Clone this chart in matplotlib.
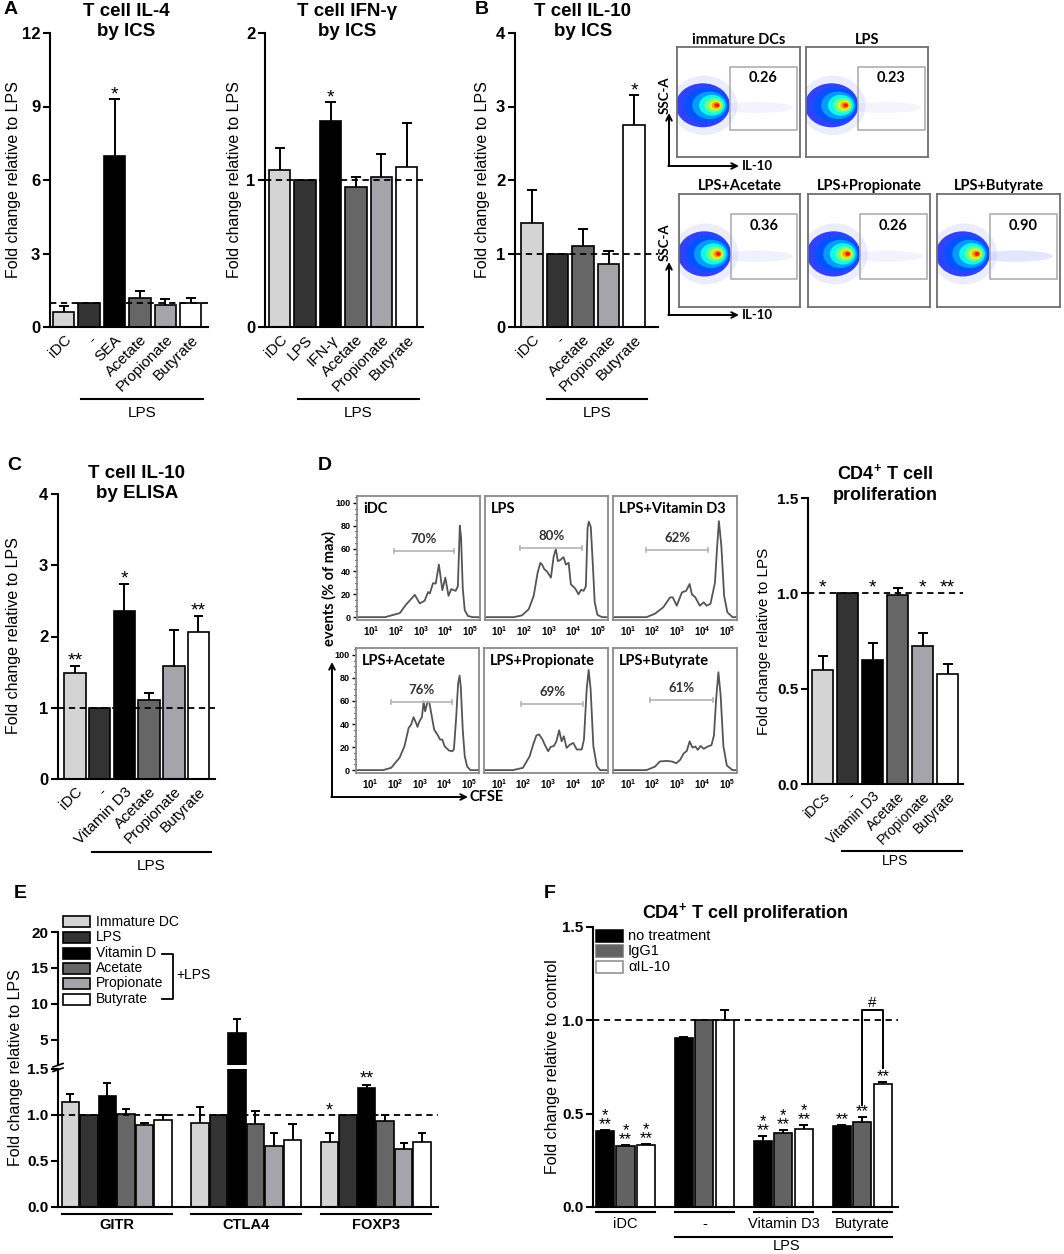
import numpy as np
import matplotlib
matplotlib.use('Agg')
import matplotlib.pyplot as plt
from matplotlib.patches import Rectangle, Ellipse
from matplotlib import transforms
from matplotlib.ticker import MultipleLocator, NullLocator

plt.rcParams['font.family'] = ['Liberation Sans', 'DejaVu Sans']
plt.rcParams['mathtext.fontset'] = 'custom'
plt.rcParams['mathtext.rm'] = 'Liberation Sans'
plt.rcParams['mathtext.bf'] = 'Liberation Sans:bold'
plt.rcParams['mathtext.it'] = 'Liberation Sans:italic'

# ------------------------------------------------------------------ data
il4_labels = ['iDC', '-', 'SEA', 'Acetate', 'Propionate', 'Butyrate']
il4_vals = [0.62, 1.0, 7.0, 1.2, 0.9, 1.0]
il4_errs = [0.23, 0.0, 2.3, 0.27, 0.23, 0.2]
il4_sig = ['', '', '*', '', '', '']

ifn_labels = ['iDC', 'LPS', 'IFN-γ', 'Acetate', 'Propionate', 'Butyrate']
ifn_vals = [1.07, 1.0, 1.40, 0.955, 1.02, 1.09]
ifn_errs = [0.15, 0.0, 0.13, 0.065, 0.16, 0.30]
ifn_sig = ['', '', '*', '', '', '']

il10ics_labels = ['iDC', '-', 'Acetate', 'Propionate', 'Butyrate']
il10ics_vals = [1.41, 1.0, 1.10, 0.86, 2.75]
il10ics_errs = [0.46, 0.0, 0.24, 0.17, 0.40]
il10ics_sig = ['', '', '', '', '*']

flow_titles = ['immature DCs', 'LPS', 'LPS+Acetate', 'LPS+Propionate', 'LPS+Butyrate']
flow_pct = [0.26, 0.23, 0.36, 0.26, 0.90]

elisa_labels = ['iDC', '-', 'Vitamin D3', 'Acetate', 'Propionate', 'Butyrate']
elisa_vals = [1.49, 1.0, 2.36, 1.11, 1.58, 2.06]
elisa_errs = [0.10, 0.0, 0.38, 0.10, 0.51, 0.23]
elisa_sig = ['**', '', '*', '', '', '**']

hist_titles = ['iDC', 'LPS', 'LPS+Vitamin D3', 'LPS+Acetate', 'LPS+Propionate', 'LPS+Butyrate']
hist_pct = [70, 80, 62, 76, 69, 61]
h_idc_log = [0.4, 1.54, 2.14, 2.41, 2.48, 2.75, 2.95, 3.15, 3.29, 3.36, 3.49, 3.60, 3.73, 3.87, 3.99,
             4.12, 4.23, 4.41, 4.50, 4.55, 4.58, 4.63, 4.70, 4.78, 4.91, 5.11, 5.4]
h_idc_y = [0, 0, 3.5, 11.5, 13, 19.5, 12, 14.4, 22, 20.7, 29.7, 29.4, 46, 23.6, 34.6,
           18.7, 24.5, 23, 27, 60, 80, 70, 25, 6, 1, 0, 0]
h_lps_log = [0.4, 1.57, 1.90, 2.18, 2.38, 2.54, 2.65, 2.72, 2.81, 2.92, 3.08, 3.19, 3.28, 3.36, 3.46,
             3.59, 3.69, 3.80, 3.89, 4.07, 4.20, 4.31, 4.41, 4.50, 4.57, 4.62, 4.70, 4.78, 4.86, 4.97, 5.15, 5.4]
h_lps_y = [0, 0, 1.5, 7, 18.7, 39, 47.5, 46, 42, 40, 34.6, 53, 59.6, 49, 50,
           52.5, 46, 47.5, 28.8, 25, 20, 24, 23, 27, 78, 83.6, 79, 47.5, 13, 2, 0, 0]
h_vd3_log = [0.4, 1.75, 2.09, 2.43, 2.70, 2.81, 2.97, 3.18, 3.35, 3.49, 3.58, 3.72, 3.90, 4.06, 4.17,
             4.33, 4.51, 4.60, 4.67, 4.77, 4.88, 5.01, 5.22, 5.4]
h_vd3_y = [0, 0, 3, 8.7, 17.3, 17.3, 10, 21.7, 23, 29, 20, 17.3, 10, 13, 10,
           11.6, 30, 62, 84, 62, 18.8, 4.3, 0, 0]
h_ace_log = [0.4, 1.50, 1.83, 2.17, 2.37, 2.54, 2.64, 2.74, 2.84, 2.90, 2.97, 3.08, 3.15, 3.21, 3.31,
             3.38, 3.48, 3.58, 3.71, 3.82, 3.91, 4.00, 4.18, 4.32, 4.38, 4.47, 4.55, 4.61, 4.66, 4.74,
             4.82, 4.92, 5.05, 5.4]
h_ace_y = [0, 0, 2, 10.7, 20.7, 36.6, 39.5, 46, 41, 37.5, 42, 46, 59.6, 51, 59.6,
           58.8, 46.7, 35, 30.8, 26.5, 26.5, 20.7, 17, 16.4, 18, 45, 75, 82, 72, 35,
           12, 3, 0, 0]
h_pro_log = [0.4, 1.57, 1.97, 2.24, 2.38, 2.51, 2.62, 2.76, 2.85, 2.99, 3.08, 3.22, 3.32, 3.43, 3.53,
             3.62, 3.73, 3.86, 4.00, 4.14, 4.34, 4.43, 4.54, 4.62, 4.70, 4.81, 4.95, 5.08, 5.4]
h_pro_y = [0, 0, 2, 12, 22, 30, 31, 26.5, 22, 16.4, 20, 21, 25, 34.6, 25,
           29.4, 19.3, 22, 23.6, 17.9, 17.9, 26.5, 70, 87, 70, 20.7, 3.5, 0, 0]
h_but_log = [0.4, 1.75, 2.09, 2.29, 2.56, 2.77, 2.95, 3.11, 3.25, 3.38, 3.49, 3.60, 3.72, 3.82, 3.93,
             4.06, 4.22, 4.37, 4.47, 4.56, 4.65, 4.74, 4.85, 4.99, 5.22, 5.4]
h_but_y = [0, 0, 3, 7.5, 8, 7.5, 6, 9, 14.5, 16.8, 25, 19.6, 20.5, 17.6, 21,
           18.5, 20.5, 21.7, 30, 62, 85, 65, 21, 4, 0, 0]
gate_lo = [1.91, 1.84, 1.75, 1.83, 1.90, 1.88]
gate_hi = [4.33, 4.34, 4.22, 4.32, 4.40, 4.43]
gate_y = [57.6, 60.5, 59.0, 59.0, 57.6, 61.0]

prolif_labels = ['iDCs', '-', 'Vitamin D3', 'Acetate', 'Propionate', 'Butyrate']
prolif_vals = [0.60, 1.0, 0.65, 0.99, 0.725, 0.577]
prolif_errs = [0.07, 0.0, 0.09, 0.04, 0.065, 0.053]
prolif_sig = ['*', '', '*', '', '*', '**']

e_genes = ['GITR', 'CTLA4', 'FOXP3']
e_series = ['Immature DC', 'LPS', 'Vitamin D', 'Acetate', 'Propionate', 'Butyrate']
gitr_vals = [1.14, 1.0, 1.21, 1.01, 0.89, 0.95]
gitr_errs = [0.09, 0.0, 0.14, 0.06, 0.02, 0.05]
ctla4_vals = [0.91, 1.0, 5.93, 0.905, 0.66, 0.73]
ctla4_errs = [0.18, 0.0, 1.97, 0.135, 0.14, 0.17]
foxp3_vals = [0.71, 1.0, 1.29, 0.93, 0.63, 0.71]
foxp3_errs = [0.09, 0.0, 0.04, 0.07, 0.07, 0.09]

f_groups = ['iDC', '-', 'Vitamin D3', 'Butyrate']
f_series = ['no treatment', 'IgG1', 'αIL-10']
f_nt = [0.409, 0.905, 0.354, 0.434]
f_nt_err = [0.003, 0.004, 0.026, 0.003]
f_igg = [0.329, 1.0, 0.398, 0.455]
f_igg_err = [0.004, 0.0, 0.014, 0.029]
f_ail = [0.333, 1.0, 0.420, 0.658]
f_ail_err = [0.003, 0.053, 0.017, 0.011]
f_sig = [['*\n**', '*\n**', '*\n**'], ['', '', ''], ['*\n**', '*\n**', '*\n**'], ['**', '**', '**']]

# ------------------------------------------------------------------ styles
C_IDC, C_LPS, C_BLK, C_ACE, C_PRO, C_BUT = '#d4d4d4', '#333333', '#000000', '#666666', '#a4a4aa', '#ffffff'
six_colors = [C_IDC, C_LPS, C_BLK, C_ACE, C_PRO, C_BUT]
F_COLORS = ['#000000', '#626262', '#ffffff']
LATO = ['Lato', 'DejaVu Sans']

W, H = 1064, 1254
fig = plt.figure(figsize=(W / 100, H / 100), dpi=100)
fig.patch.set_facecolor('white')


def px_ax(l, t, r, b):
    return fig.add_axes([l / W, 1 - b / H, (r - l) / W, (b - t) / H])


ov = fig.add_axes([0, 0, 1, 1])
ov.set_xlim(0, W)
ov.set_ylim(H, 0)
ov.axis('off')
ov.patch.set_visible(False)
ov.set_zorder(50)


def txt(x, y, s, **kw):
    kw.setdefault('ha', 'center')
    kw.setdefault('va', 'center')
    return ov.text(x, y, s, **kw)


def bt(ax):
    return transforms.blended_transform_factory(ax.transData, ov.transData)


def bar_axes(box, xlim, ylim, yticks, ytl, tick_fs=12):
    ax = px_ax(*box)
    ax.set_xlim(*xlim)
    ax.set_ylim(*ylim)
    ax.set_yticks(yticks)
    ax.set_yticklabels(ytl, fontsize=tick_fs, fontweight='bold')
    for s in ('top', 'right'):
        ax.spines[s].set_visible(False)
    for s in ('left', 'bottom'):
        ax.spines[s].set_linewidth(1.5)
    ax.tick_params(axis='y', direction='out', length=5, width=1.5, pad=2)
    ax.tick_params(axis='x', length=0, pad=4)
    ax.patch.set_visible(False)
    return ax


def draw_bars(ax, x, vals, errs, colors, width, cap):
    x = np.asarray(x, float)
    v = np.asarray(vals, float)
    e = np.asarray(errs, float)
    ax.bar(x, v, width, color=colors, edgecolor='k', linewidth=1.2, zorder=2)
    m = e > 0
    ax.vlines(x[m], v[m], v[m] + e[m], color='k', lw=1.4, zorder=3)
    ax.hlines(v[m] + e[m], x[m] - cap, x[m] + cap, color='k', lw=1.4, zorder=3)


def dashed(ax):
    ax.axhline(1.0, color='k', lw=1.3, ls=(0, (3.5, 2.5)), zorder=5)


def star(ax, x, y, s, d, size=14):
    # d: distance in px between anchor and the centre of the (last line of) stars
    off = (d + 4) / 1.389 - 0.787 * size
    ax.annotate(s, (x, y), xytext=(0, off), textcoords='offset points', ha='center',
                va='bottom', fontsize=size, annotation_clip=False, zorder=6,
                linespacing=0.5, multialignment='center')


def simple_bar_panel(box, xlim, ylim, yticks, ytl, labels, vals, errs, colors, sig,
                     width=0.84, xl_fs=11, tick_fs=12, star_d=6.5):
    ax = bar_axes(box, xlim, ylim, yticks, ytl, tick_fs)
    x = np.arange(len(vals))
    draw_bars(ax, x, vals, errs, colors, width, 0.2)
    dashed(ax)
    ax.set_xticks(x)
    ax.set_xticklabels(labels, rotation=45, ha='right', rotation_mode='anchor', fontsize=xl_fs)
    for xi, v, e, s in zip(x, vals, errs, sig):
        if s:
            star(ax, xi, v + e, s, star_d)
    return ax


# ------------------------------------------------------------------ panel A
axA1 = simple_bar_panel((50, 33, 208, 327), (-0.54, 5.68), (0, 12), [0, 3, 6, 9, 12],
                        ['0', '3', '6', '9', '12'], il4_labels, il4_vals, il4_errs, six_colors, il4_sig)
axA2 = simple_bar_panel((265, 33, 423, 327), (-0.58, 5.64), (0, 2), [0, 1, 2],
                        ['0', '1', '2'], ifn_labels, ifn_vals, ifn_errs, six_colors, ifn_sig)
for ax in (axA1, axA2):
    ax.plot([0.7, 5.5], [399, 399], color='k', lw=1.5, transform=bt(ax), clip_on=False)
    ax.text(3.1, 413, 'LPS', transform=bt(ax), ha='center', va='center', fontsize=11)

txt(126, 11, 'T cell IL-4', fontsize=13.5, fontweight='bold')
txt(126, 32, 'by ICS', fontsize=13.5, fontweight='bold')
txt(347, 11, 'T cell IFN-γ', fontsize=13.5, fontweight='bold')
txt(347, 32, 'by ICS', fontsize=13.5, fontweight='bold')
txt(14, 180, 'Fold change relative to LPS', rotation=90, fontsize=11.5)
txt(235, 180, 'Fold change relative to LPS', rotation=90, fontsize=11.5)
txt(11, 10, 'A', fontsize=14, fontweight='bold')

# ------------------------------------------------------------------ panel B (bars)
axB = simple_bar_panel((515, 33, 658, 327), (-0.67, 4.94), (0, 4), [0, 1, 2, 3, 4],
                       ['0', '1', '2', '3', '4'], il10ics_labels, il10ics_vals, il10ics_errs,
                       [C_IDC, C_LPS, C_ACE, C_PRO, C_BUT], il10ics_sig, star_d=7.5)
axB.plot([0.6, 4.5], [399, 399], color='k', lw=1.5, transform=bt(axB), clip_on=False)
axB.text(2.55, 413, 'LPS', transform=bt(axB), ha='center', va='center', fontsize=11)
txt(583, 11, 'T cell IL-10', fontsize=13.5, fontweight='bold')
txt(583, 32, 'by ICS', fontsize=13.5, fontweight='bold')
txt(483, 180, 'Fold change relative to LPS', rotation=90, fontsize=11.5)
txt(482, 10, 'B', fontsize=14, fontweight='bold')

# ------------------------------------------------------------------ panel B (flow plots)
flow_boxes = [(677, 47, 800, 157), (806, 47, 928, 157), (679, 194, 800, 307),
              (808, 194, 930, 307), (937, 194, 1060, 307)]
flow_title_y = [40, 40, 186, 186, 186]
jet = matplotlib.colormaps['jet']
blob_layers = [(0.21, 0.44, 0.40, 0.15, 0.8), (0.24, 0.36, 0.32, 0.21, 0.95),
               (0.265, 0.28, 0.25, 0.28, 1.0), (0.285, 0.21, 0.19, 0.37, 1.0),
               (0.30, 0.15, 0.135, 0.48, 1.0), (0.31, 0.105, 0.095, 0.60, 1.0),
               (0.318, 0.07, 0.063, 0.74, 1.0), (0.325, 0.04, 0.036, 0.88, 1.0)]
for i, box in enumerate(flow_boxes):
    ax = px_ax(*box)
    ax.set_xlim(0, 1)
    ax.set_ylim(0, 1)
    ax.set_xticks([])
    ax.set_yticks([])
    for sp in ax.spines.values():
        sp.set_color('#6e6e6e')
        sp.set_linewidth(1.3)
    ax.add_patch(Ellipse((0.22, 0.47), 0.54, 0.54, color='#c8ccff', alpha=0.35, lw=0))
    ax.add_patch(Ellipse((0.64, 0.45), 0.60, 0.10, color='#b4b8ff', alpha=0.08 + 0.3 * flow_pct[i], lw=0))
    for cx, w, h, c, a in blob_layers:
        ax.add_patch(Ellipse((cx, 0.47), w, h, color=jet(c), alpha=a, lw=0))
    ax.add_patch(Rectangle((0.43, 0.25), 0.545, 0.57, fill=False, ec='#a8a8a8', lw=1.1))
    ax.text(0.70, 0.72, f'{flow_pct[i]:.2f}', transform=ax.transAxes, ha='center', va='center',
            fontsize=10.5, fontweight='bold', family=LATO)
    txt((box[0] + box[2]) / 2, flow_title_y[i], flow_titles[i], fontsize=10.5, fontweight='bold', family=LATO)

for yb, yt, ytxt in [(166, 113, 95), (315, 262, 242)]:
    ov.annotate('', xy=(669, yt), xytext=(669, yb),
                arrowprops=dict(arrowstyle='->', lw=1.4, color='k', shrinkA=0, shrinkB=0))
    ov.annotate('', xy=(739, yb), xytext=(668.3, yb),
                arrowprops=dict(arrowstyle='->', lw=1.4, color='k', shrinkA=0, shrinkB=0))
    txt(665, ytxt, 'SSC-A', rotation=90, fontsize=9.5, fontweight='bold', family=LATO)
    txt(742, yb, 'IL-10', ha='left', fontsize=9.5, fontweight='bold', family=LATO)

# ------------------------------------------------------------------ panel C
axC = simple_bar_panel((58, 494, 215, 779), (-0.69, 5.67), (0, 4), [0, 1, 2, 3, 4],
                       ['0', '1', '2', '3', '4'], elisa_labels, elisa_vals, elisa_errs,
                       six_colors, elisa_sig, width=0.87, star_d=7.5)
axC.plot([0.7, 5.5], [852, 852], color='k', lw=1.5, transform=bt(axC), clip_on=False)
axC.text(3.1, 866, 'LPS', transform=bt(axC), ha='center', va='center', fontsize=11)
txt(137, 473, 'T cell IL-10', fontsize=13.5, fontweight='bold')
txt(137, 493, 'by ELISA', fontsize=13.5, fontweight='bold')
txt(14, 636, 'Fold change relative to LPS', rotation=90, fontsize=11.5)
txt(14, 465, 'C', fontsize=14, fontweight='bold')

# ------------------------------------------------------------------ panel D (histograms)
hist_boxes = [(357, 496, 480, 620), (485, 496, 608, 620), (613, 496, 737, 620),
              (356, 648, 479, 773), (484, 648, 608, 773), (613, 648, 737, 773)]
hist_logs = [h_idc_log, h_lps_log, h_vd3_log, h_ace_log, h_pro_log, h_but_log]
hist_ys = [h_idc_y, h_lps_y, h_vd3_y, h_ace_y, h_pro_y, h_but_y]
for i, box in enumerate(hist_boxes):
    ax = px_ax(*box)
    ax.set_xscale('log')
    ax.set_xlim(10 ** 0.4, 10 ** 5.4)
    ax.set_ylim(-2.5, 106)
    ax.plot(10 ** np.asarray(hist_logs[i]), hist_ys[i], color='#555555', lw=1.3,
            solid_joinstyle='round')
    for sp in ax.spines.values():
        sp.set_color('#8a8a8a')
        sp.set_linewidth(1.3)
    ax.xaxis.set_minor_locator(NullLocator())
    ax.set_xticks([10 ** k for k in range(1, 6)])
    ax.set_xticklabels([r'$\mathbf{10^{%d}}$' % k for k in range(1, 6)], fontsize=7)
    ax.tick_params(axis='x', length=0, pad=3)
    if i % 3 == 0:
        ax.set_yticks([0, 20, 40, 60, 80, 100])
        ax.set_yticklabels(['0', '20', '40', '60', '80', '100'], fontsize=6.5, fontweight='bold')
        ax.yaxis.set_minor_locator(MultipleLocator(5))
        ax.tick_params(axis='y', which='major', length=3, width=1, pad=1.5)
        ax.tick_params(axis='y', which='minor', length=1.5, width=0.8)
    else:
        ax.set_yticks([])
    lo, hi, gy = 10 ** gate_lo[i], 10 ** gate_hi[i], gate_y[i]
    ax.plot([lo, hi], [gy, gy], color='#b4b4b4', lw=1.2)
    ax.plot([lo, lo], [gy - 1.8, gy + 1.8], color='#b4b4b4', lw=1.2)
    ax.plot([hi, hi], [gy - 1.8, gy + 1.8], color='#b4b4b4', lw=1.2)
    ax.text(10 ** ((gate_lo[i] + gate_hi[i]) / 2), gy + 10.5, f'{hist_pct[i]}%', ha='center',
            va='center', fontsize=9.5, fontweight='bold', color='#333333', family=LATO)
    ax.text(0.05, 0.95, hist_titles[i], transform=ax.transAxes, ha='left', va='top',
            fontsize=10.5, fontweight='bold', family=LATO)

ov.annotate('', xy=(332, 662), xytext=(332, 797),
            arrowprops=dict(arrowstyle='->', lw=1.4, color='k', shrinkA=0, shrinkB=0))
ov.annotate('', xy=(468, 797), xytext=(331.3, 797),
            arrowprops=dict(arrowstyle='->', lw=1.4, color='k', shrinkA=0, shrinkB=0))
txt(329, 588, 'events (% of max)', rotation=90, fontsize=10.5, fontweight='bold', family=LATO)
txt(470, 797, 'CFSE', ha='left', fontsize=10.5, fontweight='bold', family=LATO)
txt(325, 465, 'D', fontsize=14, fontweight='bold')

# ------------------------------------------------------------------ panel D (bars)
axD = bar_axes((808, 498, 963, 784), (-0.58, 5.62), (0, 1.5), [0, 0.5, 1.0, 1.5],
               ['0.0', '0.5', '1.0', '1.5'], tick_fs=11)
xD = np.arange(len(prolif_vals))
draw_bars(axD, xD, prolif_vals, prolif_errs, six_colors, 0.84, 0.2)
dashed(axD)
axD.set_xticks(xD)
axD.set_xticklabels(prolif_labels, rotation=45, ha='right', rotation_mode='anchor', fontsize=10)
for xi, s in zip(xD, prolif_sig):
    if s:
        star(axD, xi, 1.0, s, 8)
axD.plot([0.78, 5.58], [851, 851], color='k', lw=1.5, transform=bt(axD), clip_on=False)
axD.text(2.9, 861, 'LPS', transform=bt(axD), ha='center', va='center', fontsize=10)
txt(885, 473, r'CD4$^{\mathbf{+}}$ T cell', fontsize=13, fontweight='bold')
txt(885, 495, 'proliferation', fontsize=13, fontweight='bold')
txt(764, 641, 'Fold change relative to LPS', rotation=90, fontsize=11)

# ------------------------------------------------------------------ panel E
e_vals = [gitr_vals, ctla4_vals, foxp3_vals]
e_errs = [gitr_errs, ctla4_errs, foxp3_errs]
gpos = np.arange(3) * 7.0
offs = np.arange(6) - 2.5
exlim = (-3.17, 17.36)
eL = bar_axes((58, 1069, 438, 1207), exlim, (0, 1.5), [0, 0.5, 1.0, 1.5],
              ['0.0', '0.5', '1.0', '1.5'], tick_fs=11)
eU = bar_axes((58, 932, 438, 1065), exlim, (1.5, 20), [5, 10, 15, 20],
              ['5', '10', '15', '20'], tick_fs=11)
eU.spines['bottom'].set_visible(False)
eL.set_xticks([])
eU.set_xticks([])
for gi in range(3):
    for ax in (eL, eU):
        draw_bars(ax, gpos[gi] + offs, e_vals[gi], e_errs[gi], six_colors, 0.95, 0.22)
dashed(eL)
star(eL, gpos[2] + offs[0], 1.0, '*', 6, size=13)
star(eL, gpos[2] + offs[2], foxp3_vals[2] + foxp3_errs[2], '**', 7, size=13)
for gi, g in enumerate(e_genes):
    x0, x1 = gpos[gi] + offs[0] - 0.47, gpos[gi] + offs[-1] + 0.47
    eL.plot([x0, x1], [1214, 1214], color='k', lw=1.5, transform=bt(eL), clip_on=False)
    eL.text(gpos[gi], 1225, g, transform=bt(eL), ha='center', va='center', fontsize=10.5,
            fontweight='bold')
# axis break marks
ov.plot([53, 63], [1067, 1063.5], color='k', lw=1.2)
ov.plot([53, 63], [1071.5, 1068], color='k', lw=1.2)
# legend
e_leg_y = [921.7, 937.3, 953.3, 968.3, 983.3, 999.0]
for c, lab, y in zip(six_colors, e_series, e_leg_y):
    ov.add_patch(Rectangle((63, y - 5.5), 27, 11, facecolor=c, edgecolor='k', lw=1.2))
    txt(96, y, lab, ha='left', fontsize=10)
ov.plot([162, 173, 173, 162], [954, 954, 999, 999], color='k', lw=1.3)
txt(176, 975, '+LPS', ha='left', fontsize=10)
txt(16, 1068, 'Fold change relative to LPS', rotation=90, fontsize=11.5)
txt(20, 894, 'E', fontsize=14, fontweight='bold')

# ------------------------------------------------------------------ panel F
axF = bar_axes((593, 927, 898, 1207), (-1.585, 13.29), (0, 1.5), [0, 0.5, 1.0, 1.5],
               ['0.0', '0.5', '1.0', '1.5'], tick_fs=11)
axF.set_xticks([])
fg = np.arange(4) * 3.85
f_vals = [f_nt, f_igg, f_ail]
f_errs = [f_nt_err, f_igg_err, f_ail_err]
for si in range(3):
    draw_bars(axF, fg + (si - 1), f_vals[si], f_errs[si], F_COLORS[si], 0.88, 0.22)
dashed(axF)
for gi in range(4):
    for si in range(3):
        if f_sig[gi][si]:
            star(axF, fg[gi] + si - 1, f_vals[si][gi] + f_errs[si][gi], f_sig[gi][si], 7, size=12)
# '#' bracket
axF.plot([fg[3], fg[3], fg[3] + 1, fg[3] + 1], [0.545, 1.053, 1.053, 0.743], color='k', lw=1.4, zorder=6)
axF.annotate('#', (fg[3] + 0.5, 1.053), xytext=(0, 2.5), textcoords='offset points', ha='center',
             va='baseline', fontsize=11, zorder=6)
for gi, g in enumerate(f_groups):
    axF.plot([fg[gi] - 1.44, fg[gi] + 1.44], [1212, 1212], color='k', lw=1.5, transform=bt(axF),
             clip_on=False)
    axF.text(fg[gi], 1224, g, transform=bt(axF), ha='center', va='center', fontsize=10.5)
axF.plot([fg[1] - 1.44, fg[3] + 1.44], [1236.5, 1236.5], color='k', lw=1.5, transform=bt(axF),
         clip_on=False)
txt(787, 1246.5, 'LPS', fontsize=10.5)
f_leg_y = [935.7, 951.0, 967.3]
f_leg_edge = ['k', '#707070', '#8a8a8a']
for c, ec, lab, y in zip(F_COLORS, f_leg_edge, f_series, f_leg_y):
    ov.add_patch(Rectangle((596, y - 6), 27, 12, facecolor=c, edgecolor=ec, lw=1.1))
    txt(628, y, lab, ha='left', fontsize=10.5)
txt(745, 913, r'CD4$^{\mathbf{+}}$ T cell proliferation', fontsize=13, fontweight='bold')
txt(553, 1067, 'Fold change relative to control', rotation=90, fontsize=11.5)
txt(550, 893, 'F', fontsize=14, fontweight='bold')

fig.savefig('out.png', dpi=100, facecolor='white')
